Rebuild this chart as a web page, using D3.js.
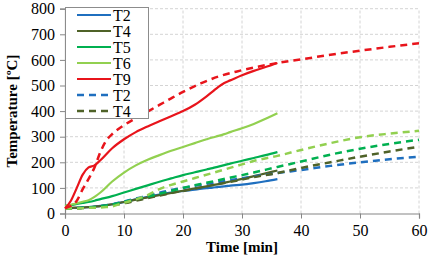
<!DOCTYPE html>
<html><head><meta charset="utf-8">
<script src="https://cdnjs.cloudflare.com/ajax/libs/d3/7.8.5/d3.min.js"></script>
<style>body{margin:0;background:#fff}svg{display:block}</style>
</head><body><svg id="c" width="429" height="260"></svg>
<script>
// measured (solid) series
const timeMeasured = [0,1,2,3,4,5,6,8,10,12,14,16,18,20,22,24,25,26,27,28,30,32,34,36];
const mT2 = [20,21,22,23,25,27,30,36,45,55,65,74,82,88,93,99,101,104,106,109,113,119,126,134];
const mT4 = [22,22,23,24,25,27,29,36,45,54,63,72,80,89,98,106,111,115,120,125,135,146,157,168];
const mT5 = [30,33,37,41,45,50,56,68,82,96,110,124,137,150,161,172,177,183,189,195,206,217,228,240];
const mT6 = [30,34,40,46,52,65,82,125,160,188,210,228,245,260,275,290,297,303,310,318,333,350,370,392];
const mT9 = [20,50,100,152,180,188,208,255,290,318,340,360,380,400,425,458,476,495,510,520,540,557,572,588];
// simulated (dashed) series
const timeSim = [0,1,2,3,4,5,6,7,8,10,12,14,16,18,20,23,26,29,32,36,40,45,50,55,60];
const sT2 = [20,20,21,22,23,25,28,32,36,47,58,70,81,92,100,112,123,134,145,158,170,186,200,212,222];
const sT4 = [20,20,20,21,22,24,26,29,33,40,50,60,70,80,88,102,115,128,142,158,178,200,222,242,261];
const sT5 = [20,20,21,22,23,25,28,31,35,45,56,66,77,88,100,115,130,145,160,182,203,230,253,272,288];
const sT6 = [20,20,20,21,22,22,23,25,28,42,55,72,95,112,125,145,165,185,205,225,248,275,298,312,323];
const sT9 = [20,30,50,95,135,180,240,285,310,345,372,398,424,450,475,508,535,554,570,588,602,620,636,651,665];

const xTicks = [0,10,20,30,40,50,60];
const yTicks = [0,100,200,300,400,500,600,700,800];
const legendLabels = ["T2","T4","T5","T6","T9","T2","T4"];

const colors = {T2:"#1f6fbf",T4:"#4f6228",T5:"#00b050",T6:"#92d050",T9:"#e8141b"};

const series = [
  {name:"T2",t:timeMeasured,v:mT2,dash:false},
  {name:"T4",t:timeMeasured,v:mT4,dash:false},
  {name:"T5",t:timeMeasured,v:mT5,dash:false},
  {name:"T6",t:timeMeasured,v:mT6,dash:false},
  {name:"T9",t:timeMeasured,v:mT9,dash:false},
  {name:"T2",t:timeSim,v:sT2,dash:true},
  {name:"T4",t:timeSim,v:sT4,dash:true},
  {name:"T5",t:timeSim,v:sT5,dash:true},
  {name:"T6",t:timeSim,v:sT6,dash:true},
  {name:"T9",t:timeSim,v:sT9,dash:true}
];

const svg = d3.select("#c");
const x = d3.scaleLinear().domain([0,60]).range([65,419]);
const y = d3.scaleLinear().domain([0,800]).range([213.5,8.7]);
const font = "'Liberation Serif','Times New Roman',serif";

// grid
const g = svg.append("g");
g.selectAll("line.gx").data(xTicks.slice(1)).join("line")
  .attr("x1",d=>x(d)).attr("x2",d=>x(d)).attr("y1",y(0)).attr("y2",y(800))
  .attr("stroke","#d4d4d4").attr("stroke-width",1).attr("stroke-dasharray","3,2");
g.selectAll("line.gy").data(yTicks.slice(1)).join("line")
  .attr("x1",x(0)).attr("x2",x(60)).attr("y1",d=>y(d)).attr("y2",d=>y(d))
  .attr("stroke","#d4d4d4").attr("stroke-width",1).attr("stroke-dasharray","3,2");

// axes
const xAxis = svg.append("g").attr("transform",`translate(0,${y(0)})`)
  .call(d3.axisBottom(x).tickValues(xTicks).tickSize(5).tickPadding(6));
const yAxis = svg.append("g").attr("transform",`translate(${x(0)},0)`)
  .call(d3.axisLeft(y).tickValues(yTicks).tickSize(5).tickPadding(5));
[xAxis,yAxis].forEach(a=>{
  a.select(".domain").attr("stroke","#868686").attr("stroke-width",1.2);
  a.selectAll(".tick line").attr("stroke","#868686");
  a.selectAll("text").attr("font-family",font).attr("font-size",16).attr("fill","#000");
});

// lines
const line = d3.line().x(d=>x(d[0])).y(d=>y(d[1])).curve(d3.curveMonotoneX);
svg.append("g").selectAll("path").data(series).join("path")
  .attr("d",s=>line(s.t.map((t,i)=>[t,s.v[i]])))
  .attr("fill","none").attr("stroke",s=>colors[s.name])
  .attr("stroke-width",s=>s.dash?2.5:2.2)
  .attr("stroke-dasharray",s=>s.dash?"7,5":null);

// axis titles
svg.append("text").attr("x",242).attr("y",252).attr("text-anchor","middle")
  .attr("font-family",font).attr("font-weight","bold").attr("font-size",15).text("Time [min]");
svg.append("text").attr("transform","translate(17,111) rotate(-90)").attr("text-anchor","middle")
  .attr("font-family",font).attr("font-weight","bold").attr("font-size",15).text("Temperature [ºC]");

// legend
const leg = svg.append("g");
leg.append("rect").attr("x",65.5).attr("y",7.5).attr("width",83).attr("height",111)
  .attr("fill","#fff").attr("stroke","#8c8c8c").attr("stroke-width",1);
const items = series.slice(0,7);
items.forEach((s,i)=>{
  const yy = 15 + i*16;
  leg.append("line").attr("x1",77).attr("x2",111).attr("y1",yy).attr("y2",yy)
    .attr("stroke",colors[s.name]).attr("stroke-width",s.dash?2.5:2.2)
    .attr("stroke-dasharray",s.dash?"7,5":null);
  leg.append("text").attr("x",113).attr("y",yy+5.5).attr("font-family",font)
    .attr("font-size",16).text(legendLabels[i]);
});
</script></body></html>
